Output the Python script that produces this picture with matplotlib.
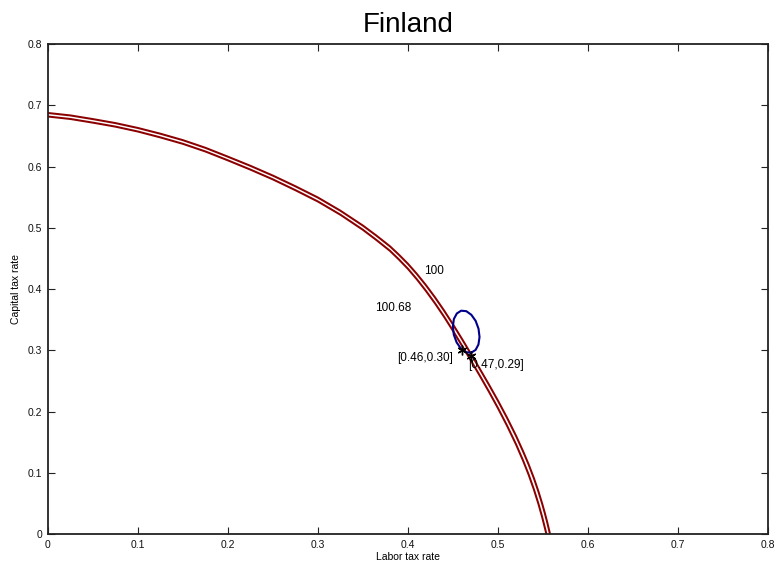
import matplotlib
matplotlib.use("Agg")
import matplotlib.pyplot as plt

plt.rcParams["font.family"] = ["Liberation Sans", "DejaVu Sans"]

# two contour lines (labor tax rate, capital tax rate)
labor_outer = [0.000, 0.025, 0.050, 0.075, 0.100, 0.125, 0.150, 0.175, 0.200, 0.225,
               0.250, 0.275, 0.300, 0.325, 0.350, 0.365, 0.380, 0.390, 0.400, 0.410,
               0.420, 0.430, 0.440, 0.450, 0.460, 0.470, 0.480, 0.490, 0.500, 0.510,
               0.520, 0.528, 0.534, 0.540, 0.545, 0.549, 0.552, 0.5545, 0.5578]
capital_outer = [0.6874, 0.6834, 0.6774, 0.6709, 0.6629, 0.6535, 0.6430, 0.6305, 0.6160, 0.6011,
                 0.5851, 0.5677, 0.5493, 0.5278, 0.5035, 0.4871, 0.4697, 0.4559, 0.4411, 0.4244,
                 0.4062, 0.3864, 0.3651, 0.3423, 0.3185, 0.2940, 0.2691, 0.2438, 0.2176, 0.1900,
                 0.1605, 0.1346, 0.1138, 0.0907, 0.0691, 0.0500, 0.0343, 0.0203, 0.0]
labor_inner = [0.000, 0.025, 0.050, 0.075, 0.100, 0.125, 0.150, 0.175, 0.200, 0.225,
               0.250, 0.275, 0.300, 0.325, 0.350, 0.365, 0.380, 0.390, 0.400, 0.410,
               0.420, 0.430, 0.440, 0.450, 0.460, 0.470, 0.480, 0.490, 0.500, 0.510,
               0.520, 0.528, 0.534, 0.540, 0.545, 0.549, 0.552, 0.5538]
capital_inner = [0.6816, 0.6776, 0.6716, 0.6651, 0.6571, 0.6475, 0.6370, 0.6245, 0.6100, 0.5949,
                 0.5789, 0.5613, 0.5428, 0.5212, 0.4966, 0.4799, 0.4623, 0.4481, 0.4329, 0.4156,
                 0.3968, 0.3766, 0.3549, 0.3317, 0.3075, 0.2830, 0.2579, 0.2322, 0.2054, 0.1770,
                 0.1465, 0.1194, 0.0972, 0.0723, 0.0489, 0.0280, 0.0107, 0.0]

# small blue loop
loop_labor = [0.4702, 0.4751, 0.4783, 0.4795, 0.4784, 0.4752, 0.4704, 0.4648, 0.4591,
              0.4543, 0.4510, 0.4499, 0.4509, 0.4541, 0.4589, 0.4645, 0.4702]
loop_capital = [0.2960, 0.3005, 0.3094, 0.3216, 0.3351, 0.3479, 0.3579, 0.3638, 0.3646,
                0.3601, 0.3511, 0.3390, 0.3255, 0.3127, 0.3026, 0.2968, 0.2960]

# optimum points
opt_labor = [0.46, 0.47]
opt_capital = [0.30, 0.29]
opt_text = ["[0.46,0.30]", "[0.47,0.29]"]

level_text = ["100", "100.68"]
level_pos = [(0.429, 0.429), (0.384, 0.369)]

ticks = [0, 0.1, 0.2, 0.3, 0.4, 0.5, 0.6, 0.7, 0.8]
tick_labels = ["0", "0.1", "0.2", "0.3", "0.4", "0.5", "0.6", "0.7", "0.8"]

fig = plt.figure(figsize=(7.8, 5.71), dpi=100)
ax = fig.add_axes([0.0615, 0.0648, 0.9231, 0.8581])

red = "#8b0000"
ax.plot(labor_outer, capital_outer, color=red, lw=1.45, solid_capstyle="butt")
ax.plot(labor_inner, capital_inner, color=red, lw=1.45, solid_capstyle="butt")
ax.plot(loop_labor, loop_capital, color="#00008b", lw=1.5)

ax.plot(opt_labor, opt_capital, linestyle="none", marker=(6, 2, 0),
        markersize=7, color="black", markeredgewidth=1.0)

ax.text(0.450, 0.287, opt_text[0], ha="right", va="center", fontsize=8.5)
ax.text(0.467, 0.276, opt_text[1], ha="left", va="center", fontsize=8.5)
for s, (x, y) in zip(level_text, level_pos):
    ax.text(x, y, s, ha="center", va="center", fontsize=8.5)

ax.set_xlim(0, 0.8)
ax.set_ylim(0, 0.8)
ax.set_xticks(ticks)
ax.set_xticklabels(tick_labels)
ax.set_yticks(ticks)
ax.set_yticklabels(tick_labels)
ax.tick_params(axis="both", direction="in", length=5, width=0.8, labelsize=7.5,
               top=True, right=True, pad=4, colors="#222222", labelcolor="#111111")
for sp in ax.spines.values():
    sp.set_linewidth(1.3)
    sp.set_color("#222222")

ax.set_title("Finland", fontsize=20, pad=9)
ax.set_xlabel("Labor tax rate", fontsize=7.5, labelpad=2)
ax.set_ylabel("Capital tax rate", fontsize=7.5, labelpad=5)

fig.savefig("out.png", dpi=100)
